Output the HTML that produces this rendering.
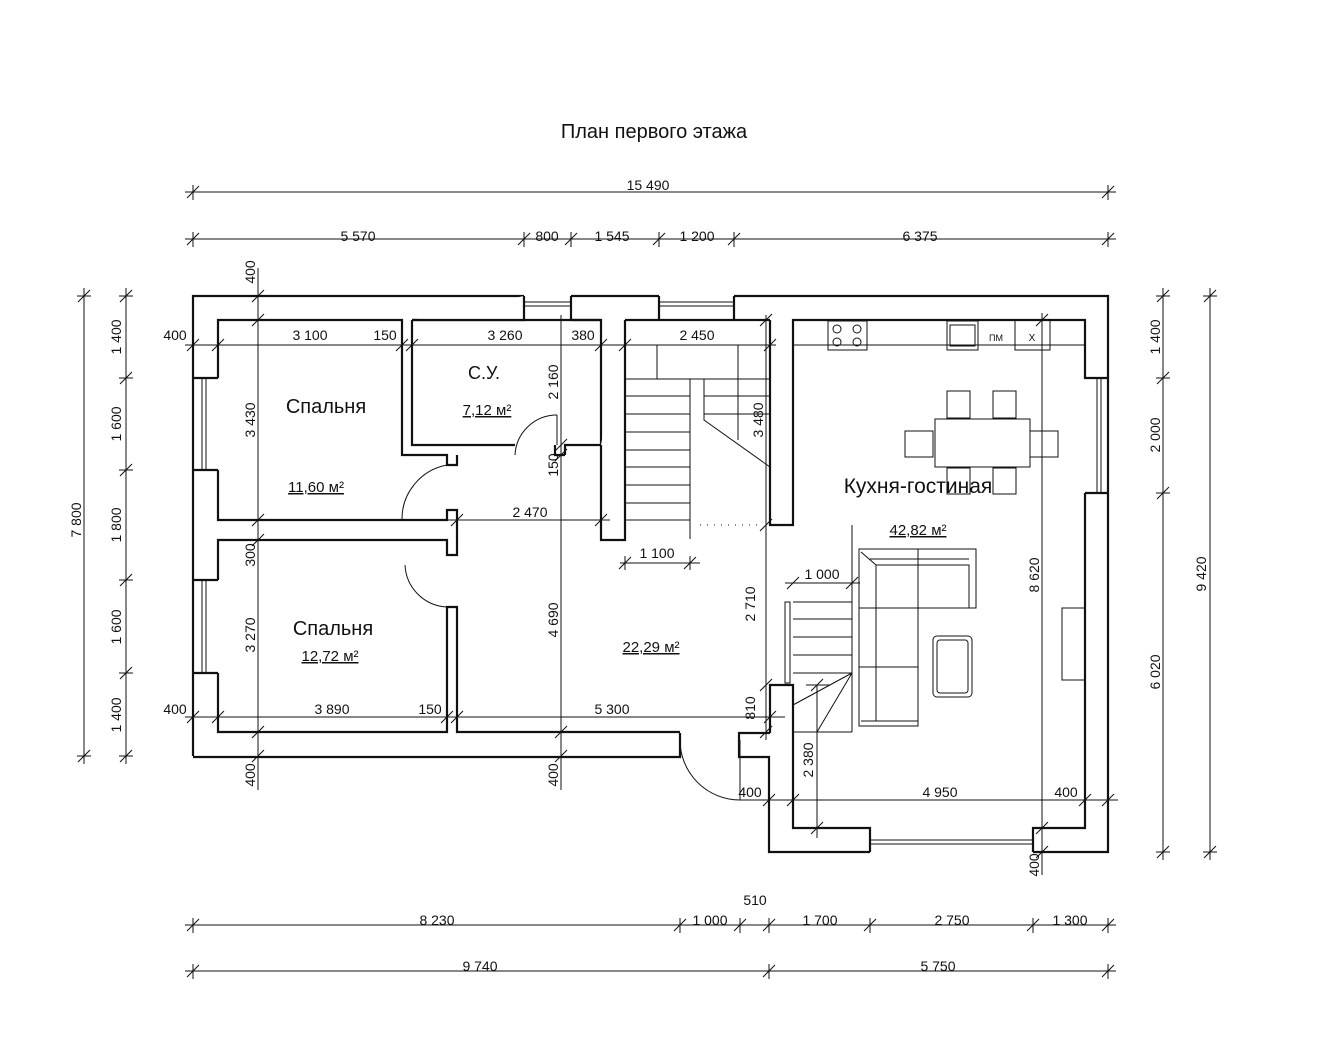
<!DOCTYPE html>
<html><head><meta charset="utf-8"><style>
body{margin:0;background:#fff}
svg{display:block}
text{font-family:"Liberation Sans Narrow","Liberation Sans",sans-serif;fill:#111}
.d{font-size:14px}
</style></head><body>
<svg width="1330" height="1038" viewBox="0 0 1330 1038" xmlns="http://www.w3.org/2000/svg">
<g fill="none" stroke="#111">
<g stroke-width="2.2" fill="#fff">
<path d="M193,756 V296 H524 M571,296 H659 M734,296 H1108 V852 H1033 M870,852 H769 V757 H739 V733 H770"/>
<path d="M680,733 V757 H193"/>
<path d="M218,378 V320 H402 V455 H447 V465 H457 V455"/>
<path d="M218,470 V520 H447 V510 H457 V520"/>
<path d="M218,580 V540 H447 V555 H457 V520"/>
<path d="M218,673 V732 H447 V607 H457 V732 H680"/>
<path d="M412,320 H601 V445 H565 V455"/>
<path d="M412,320 V445 H515 M555,445 V455 H565"/>
<path d="M193,378 H218 M193,470 H218 M193,580 H218 M193,673 H218"/>
<path d="M524,296 V320 H412 M571,296 V320 M659,296 V320 M734,296 V320"/>
<path d="M571,320 H601 M625,320 H770 M659,320 H625"/>
<path d="M601,445 V540 H625 V320"/>
<path d="M770,320 V525 H793 V320 H1085 V378 H1108 M1085,320 V378 M1085,493 V828 H1033 V852 M870,852 V828 H793 V685 H770 V733 M1085,493 H1108"/>
</g>
<g stroke-width="1">
<path d="M524,302 H571 M524,306 H571 M659,302 H734 M659,306 H734"/>
<path d="M202,378 V470 M206,378 V470 M202,580 V673 M206,580 V673"/>
<path d="M1097,378 V493 M1101,378 V493"/>
<path d="M870,840 H1033 M870,844 H1033"/>
<rect x="785" y="602" width="5" height="81"/>
</g>
<g stroke-width="1">
<path d="M447,465 A55,55 0 0 0 402,520"/>
<path d="M405,565 A44,44 0 0 0 447,607"/>
<path d="M557,415 A42,42 0 0 0 515,455"/>
<path d="M557,415 V445"/>
<path d="M680,740 A60,60 0 0 0 740,800"/>
<path d="M740,740 V800"/>
</g>
<g stroke-width="1">
<path d="M657,345 H738 V440 M657,345 V379 M625,379 H770 M690,379 V539 M704,379 V420 L770,467"/>
<path d="M625,396 H690 M625,414 H690 M625,432 H690 M625,450 H690 M625,467 H690 M625,485 H690 M625,503 H690 M625,520 H690 M704,396 H770 M704,414 H770"/>
<path d="M700,525 H760" stroke-dasharray="1,6"/>
<path d="M852,525 V732 M793,602 H852 M793,619 H852 M793,637 H852 M793,655 H852 M793,673 H852 M852,673 L793,705 M852,673 L817,732 M793,732 H852"/>
<path d="M793,345 H1085"/>
<rect x="828" y="321" width="39" height="29"/>
<circle cx="837" cy="329" r="4"/><circle cx="857" cy="329" r="4"/><circle cx="837" cy="342" r="4"/><circle cx="857" cy="342" r="4"/>
<rect x="947" y="321" width="31" height="29"/><rect x="950" y="325" width="25" height="21"/>
<path d="M1015,320 V350 H1050 V320"/>
<rect x="935" y="419" width="95" height="48"/>
<rect x="947" y="391" width="23" height="27"/><rect x="993" y="391" width="23" height="27"/>
<rect x="947" y="468" width="23" height="26"/><rect x="993" y="468" width="23" height="26"/>
<rect x="905" y="431" width="28" height="26"/><rect x="1030" y="431" width="28" height="26"/>
<path d="M859,549 H976 V608 H918 V726 H859 Z"/>
<path d="M861,552 L876,565 H969 V608 M876,565 V721 M870,559 H969 M918,549 V608 M859,608 H918 M859,667 H918 M861,721 H918"/>
<rect x="933" y="636" width="39" height="61" rx="4"/><rect x="937" y="640" width="31" height="53" rx="3"/>
<rect x="1062" y="608" width="23" height="72"/>
</g>
<g stroke-width="1">
<path d="M185,192 H1116 M185,239 H1116 M193,185 V200 M1108,185 V200 M193,232 V247 M524,232 V247 M571,232 V247 M659,232 V247 M734,232 V247 M1108,232 V247"/>
<path d="M187,198 l12,-12 M1102,198 l12,-12 M187,245 l12,-12 M518,245 l12,-12 M565,245 l12,-12 M653,245 l12,-12 M728,245 l12,-12 M1102,245 l12,-12"/>
<path d="M185,925 H1116 M185,971 H1116 M193,918 V933 M680,918 V933 M740,918 V933 M769,918 V933 M870,918 V933 M1033,918 V933 M1108,918 V933 M193,964 V979 M769,964 V979 M1108,964 V979"/>
<path d="M187,931 l12,-12 M674,931 l12,-12 M734,931 l12,-12 M763,931 l12,-12 M864,931 l12,-12 M1027,931 l12,-12 M1102,931 l12,-12 M187,977 l12,-12 M763,977 l12,-12 M1102,977 l12,-12"/>
<path d="M84,288 V764 M126,288 V764 M77,296 H91 M77,756 H91 M119,296 H133 M119,378 H133 M119,470 H133 M119,580 H133 M119,673 H133 M119,756 H133"/>
<path d="M78,302 l12,-12 M78,762 l12,-12 M120,302 l12,-12 M120,384 l12,-12 M120,476 l12,-12 M120,586 l12,-12 M120,679 l12,-12 M120,762 l12,-12"/>
<path d="M1163,288 V860 M1210,288 V860 M1156,296 H1170 M1156,378 H1170 M1156,493 H1170 M1156,852 H1170 M1203,296 H1217 M1203,852 H1217"/>
<path d="M1157,302 l12,-12 M1157,384 l12,-12 M1157,499 l12,-12 M1157,858 l12,-12 M1204,302 l12,-12 M1204,858 l12,-12"/>
<path d="M185,345 H776 M187,351 l12,-12 M212,351 l12,-12 M396,351 l12,-12 M406,351 l12,-12 M595,351 l12,-12 M619,351 l12,-12 M764,351 l12,-12"/>
<path d="M258,268 V790 M252,302 l12,-12 M252,326 l12,-12 M252,526 l12,-12 M252,546 l12,-12 M252,738 l12,-12 M252,762 l12,-12"/>
<path d="M185,717 H785 M187,723 l12,-12 M212,723 l12,-12 M441,723 l12,-12 M451,723 l12,-12 M764,723 l12,-12"/>
<path d="M447,520 H610 M451,526 l12,-12 M595,526 l12,-12"/>
<path d="M561,315 V790 M555,451 l12,-12 M555,461 l12,-12 M555,738 l12,-12 M555,762 l12,-12"/>
<path d="M766,315 V740 M760,326 l12,-12 M760,531 l12,-12 M760,691 l12,-12 M760,738 l12,-12"/>
<path d="M620,563 H700 M625,556 V570 M690,556 V570 M619,569 l12,-12 M684,569 l12,-12"/>
<path d="M785,583 H860 M787,589 l12,-12 M846,589 l12,-12"/>
<path d="M817,685 V838 M811,691 l12,-12 M811,834 l12,-12 M806,685 H830"/>
<path d="M740,800 H1118 M763,806 l12,-12 M787,806 l12,-12 M1079,806 l12,-12 M1102,806 l12,-12"/>
<path d="M1042,313 V875 M1036,326 l12,-12 M1036,834 l12,-12 M1036,858 l12,-12"/>
</g>
</g>
<text x="654" y="138" font-size="20" text-anchor="middle">План первого этажа</text>
<g class="d" text-anchor="middle">
<text x="648" y="190">15 490</text>
<text x="358" y="241">5 570</text><text x="547" y="241">800</text><text x="612" y="241">1 545</text><text x="697" y="241">1 200</text><text x="920" y="241">6 375</text>
<text x="437" y="925">8 230</text><text x="710" y="925">1 000</text><text x="755" y="905">510</text><text x="820" y="925">1 700</text><text x="952" y="925">2 750</text><text x="1070" y="925">1 300</text>
<text x="480" y="971">9 740</text><text x="938" y="971">5 750</text>
<text x="175" y="340">400</text><text x="310" y="340">3 100</text><text x="385" y="340">150</text><text x="505" y="340">3 260</text><text x="583" y="340">380</text><text x="697" y="340">2 450</text>
<text x="175" y="714">400</text><text x="332" y="714">3 890</text><text x="430" y="714">150</text><text x="612" y="714">5 300</text>
<text x="530" y="517">2 470</text><text x="657" y="558">1 100</text><text x="822" y="579">1 000</text>
<text x="750" y="797">400</text><text x="940" y="797">4 950</text><text x="1066" y="797">400</text>
<text transform="translate(81,520) rotate(-90)">7 800</text>
<text transform="translate(121,337) rotate(-90)">1 400</text><text transform="translate(121,424) rotate(-90)">1 600</text><text transform="translate(121,525) rotate(-90)">1 800</text><text transform="translate(121,627) rotate(-90)">1 600</text><text transform="translate(121,715) rotate(-90)">1 400</text>
<text transform="translate(1160,337) rotate(-90)">1 400</text><text transform="translate(1160,435) rotate(-90)">2 000</text><text transform="translate(1160,672) rotate(-90)">6 020</text>
<text transform="translate(1206,574) rotate(-90)">9 420</text>
<text transform="translate(255,272) rotate(-90)">400</text><text transform="translate(255,420) rotate(-90)">3 430</text><text transform="translate(255,555) rotate(-90)">300</text><text transform="translate(255,635) rotate(-90)">3 270</text><text transform="translate(255,775) rotate(-90)">400</text>
<text transform="translate(558,382) rotate(-90)">2 160</text><text transform="translate(558,465) rotate(-90)">150</text><text transform="translate(558,620) rotate(-90)">4 690</text><text transform="translate(558,775) rotate(-90)">400</text>
<text transform="translate(763,420) rotate(-90)">3 480</text><text transform="translate(755,604) rotate(-90)">2 710</text><text transform="translate(755,708) rotate(-90)">810</text>
<text transform="translate(813,760) rotate(-90)">2 380</text><text transform="translate(1039,575) rotate(-90)">8 620</text><text transform="translate(1039,865) rotate(-90)">400</text>
</g>
<g text-anchor="middle">
<text x="326" y="413" font-size="20">Спальня</text>
<text x="316" y="492" font-size="15" text-decoration="underline">11,60 м²</text>
<text x="484" y="379" font-size="18">С.У.</text>
<text x="487" y="415" font-size="15" text-decoration="underline">7,12 м²</text>
<text x="333" y="635" font-size="20">Спальня</text>
<text x="330" y="661" font-size="15" text-decoration="underline">12,72 м²</text>
<text x="651" y="652" font-size="15" text-decoration="underline">22,29 м²</text>
<text x="918" y="493" font-size="21">Кухня-гостиная</text>
<text x="918" y="535" font-size="15" text-decoration="underline">42,82 м²</text>
<text x="996" y="341" font-size="9">ПМ</text>
<text x="1032" y="341" font-size="10">Х</text>
</g>
</svg>
</body></html>
